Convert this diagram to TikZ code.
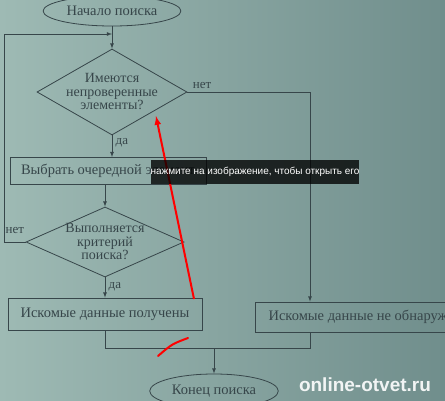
\documentclass[tikz,border=0pt]{standalone}
\usepackage{fontspec}
\setmainfont{Liberation Serif}
\newfontfamily\webfont{Liberation Sans}
\usetikzlibrary{shapes.geometric}

\definecolor{paper}{RGB}{158,186,180}
\definecolor{paperdark}{RGB}{112,142,140}
\definecolor{ink}{RGB}{55,70,74}

\begin{document}
\begin{tikzpicture}[x=1pt,y=-1pt,>=latex,line width=0.8pt,
    lbl/.style={text=ink,font=\fontsize{13}{13}\selectfont}]

      \clip (0,0) rectangle (445,400);
      \shade[left color=paper,middle color=paper,right color=paperdark] (0,0) rectangle (445,400);

      \begin{scope}[every node/.style={draw=ink,text=ink,font=\fontsize{14.5}{14}\selectfont}]
        \node[ellipse,minimum width=117,minimum height=30]              (1) at (112,11)  {Начало поиска};
        \node[diamond,minimum width=150,minimum height=86,inner sep=0]  (2) at (112,92)  {};
        \node[minimum width=196,minimum height=27]                      (3) at (108,171) {Выбрать очередной элемент};
        \node[diamond,minimum width=158,minimum height=70,inner sep=0]  (4) at (105,242) {};
        \node[minimum width=194,minimum height=32]                      (5) at (105,314) {Искомые данные получены};
        \node[minimum width=230,minimum height=30]                      (6) at (370,317) {Искомые данные не обнаружены};
        \node[ellipse,minimum width=122,minimum height=34]              (7) at (214,391) {Конец поиска};
      \end{scope}

      \begin{scope}[every node/.style={text=ink,align=center,font=\fontsize{14}{13.5}\selectfont}]
        \node (2t) at (2) {Имеются\\непроверенные\\элементы?};
        \node (4t) at (4) {Выполняется\\критерий\\поиска?};
      \end{scope}

      \coordinate (j)  at (112,34);
      \coordinate (l1) at (4,242);
      \coordinate (l2) at (4,34);
      \coordinate (k)  at (310,92);
      \coordinate (m1) at (105,348);
      \coordinate (m2) at (310,348);

      \begin{scope}[draw=ink]
        \draw[->] (1) -- (2);
        \draw[->] (2) -- node[lbl,right,pos=.35] {да} (2 |- 3.north);
        \draw[->] (2.east) -- node[lbl,above,pos=.12] {нет} (k) -- (k |- 6.north);
        \draw[->] (4 |- 3.south) -- (4);
        \draw[->] (4) -- node[lbl,right,pos=.45] {да} (5);
        \draw[->] (4.west) -- node[lbl,above=5pt,pos=.5] {нет} (l1) -- (l2) -- (j);
        \draw (5) -- (m1) -- (m2) -- (m2 |- 6.south);
        \draw[->] (7 |- m1) -- (7);
      \end{scope}

      % pen marks on the photo
      \draw[red,line width=2pt,-latex] (194,299) -- (156,116);
      \draw[red,line width=2pt,line cap=round] (158,356) .. controls (172,344) .. (188,338);

      \node[fill=black,fill opacity=.78,text opacity=1,text=white,inner sep=0,
            minimum width=204,minimum height=24,font=\webfont\fontsize{10}{12}\selectfont]
            (tip) at (255,172) {нажмите на изображение, чтобы открыть его};
      \node[text=white,text opacity=.9,font=\webfont\bfseries\fontsize{19}{20}\selectfont]
            (wm) at (365,385) {online-otvet.ru};

    \end{tikzpicture}
\end{document}
